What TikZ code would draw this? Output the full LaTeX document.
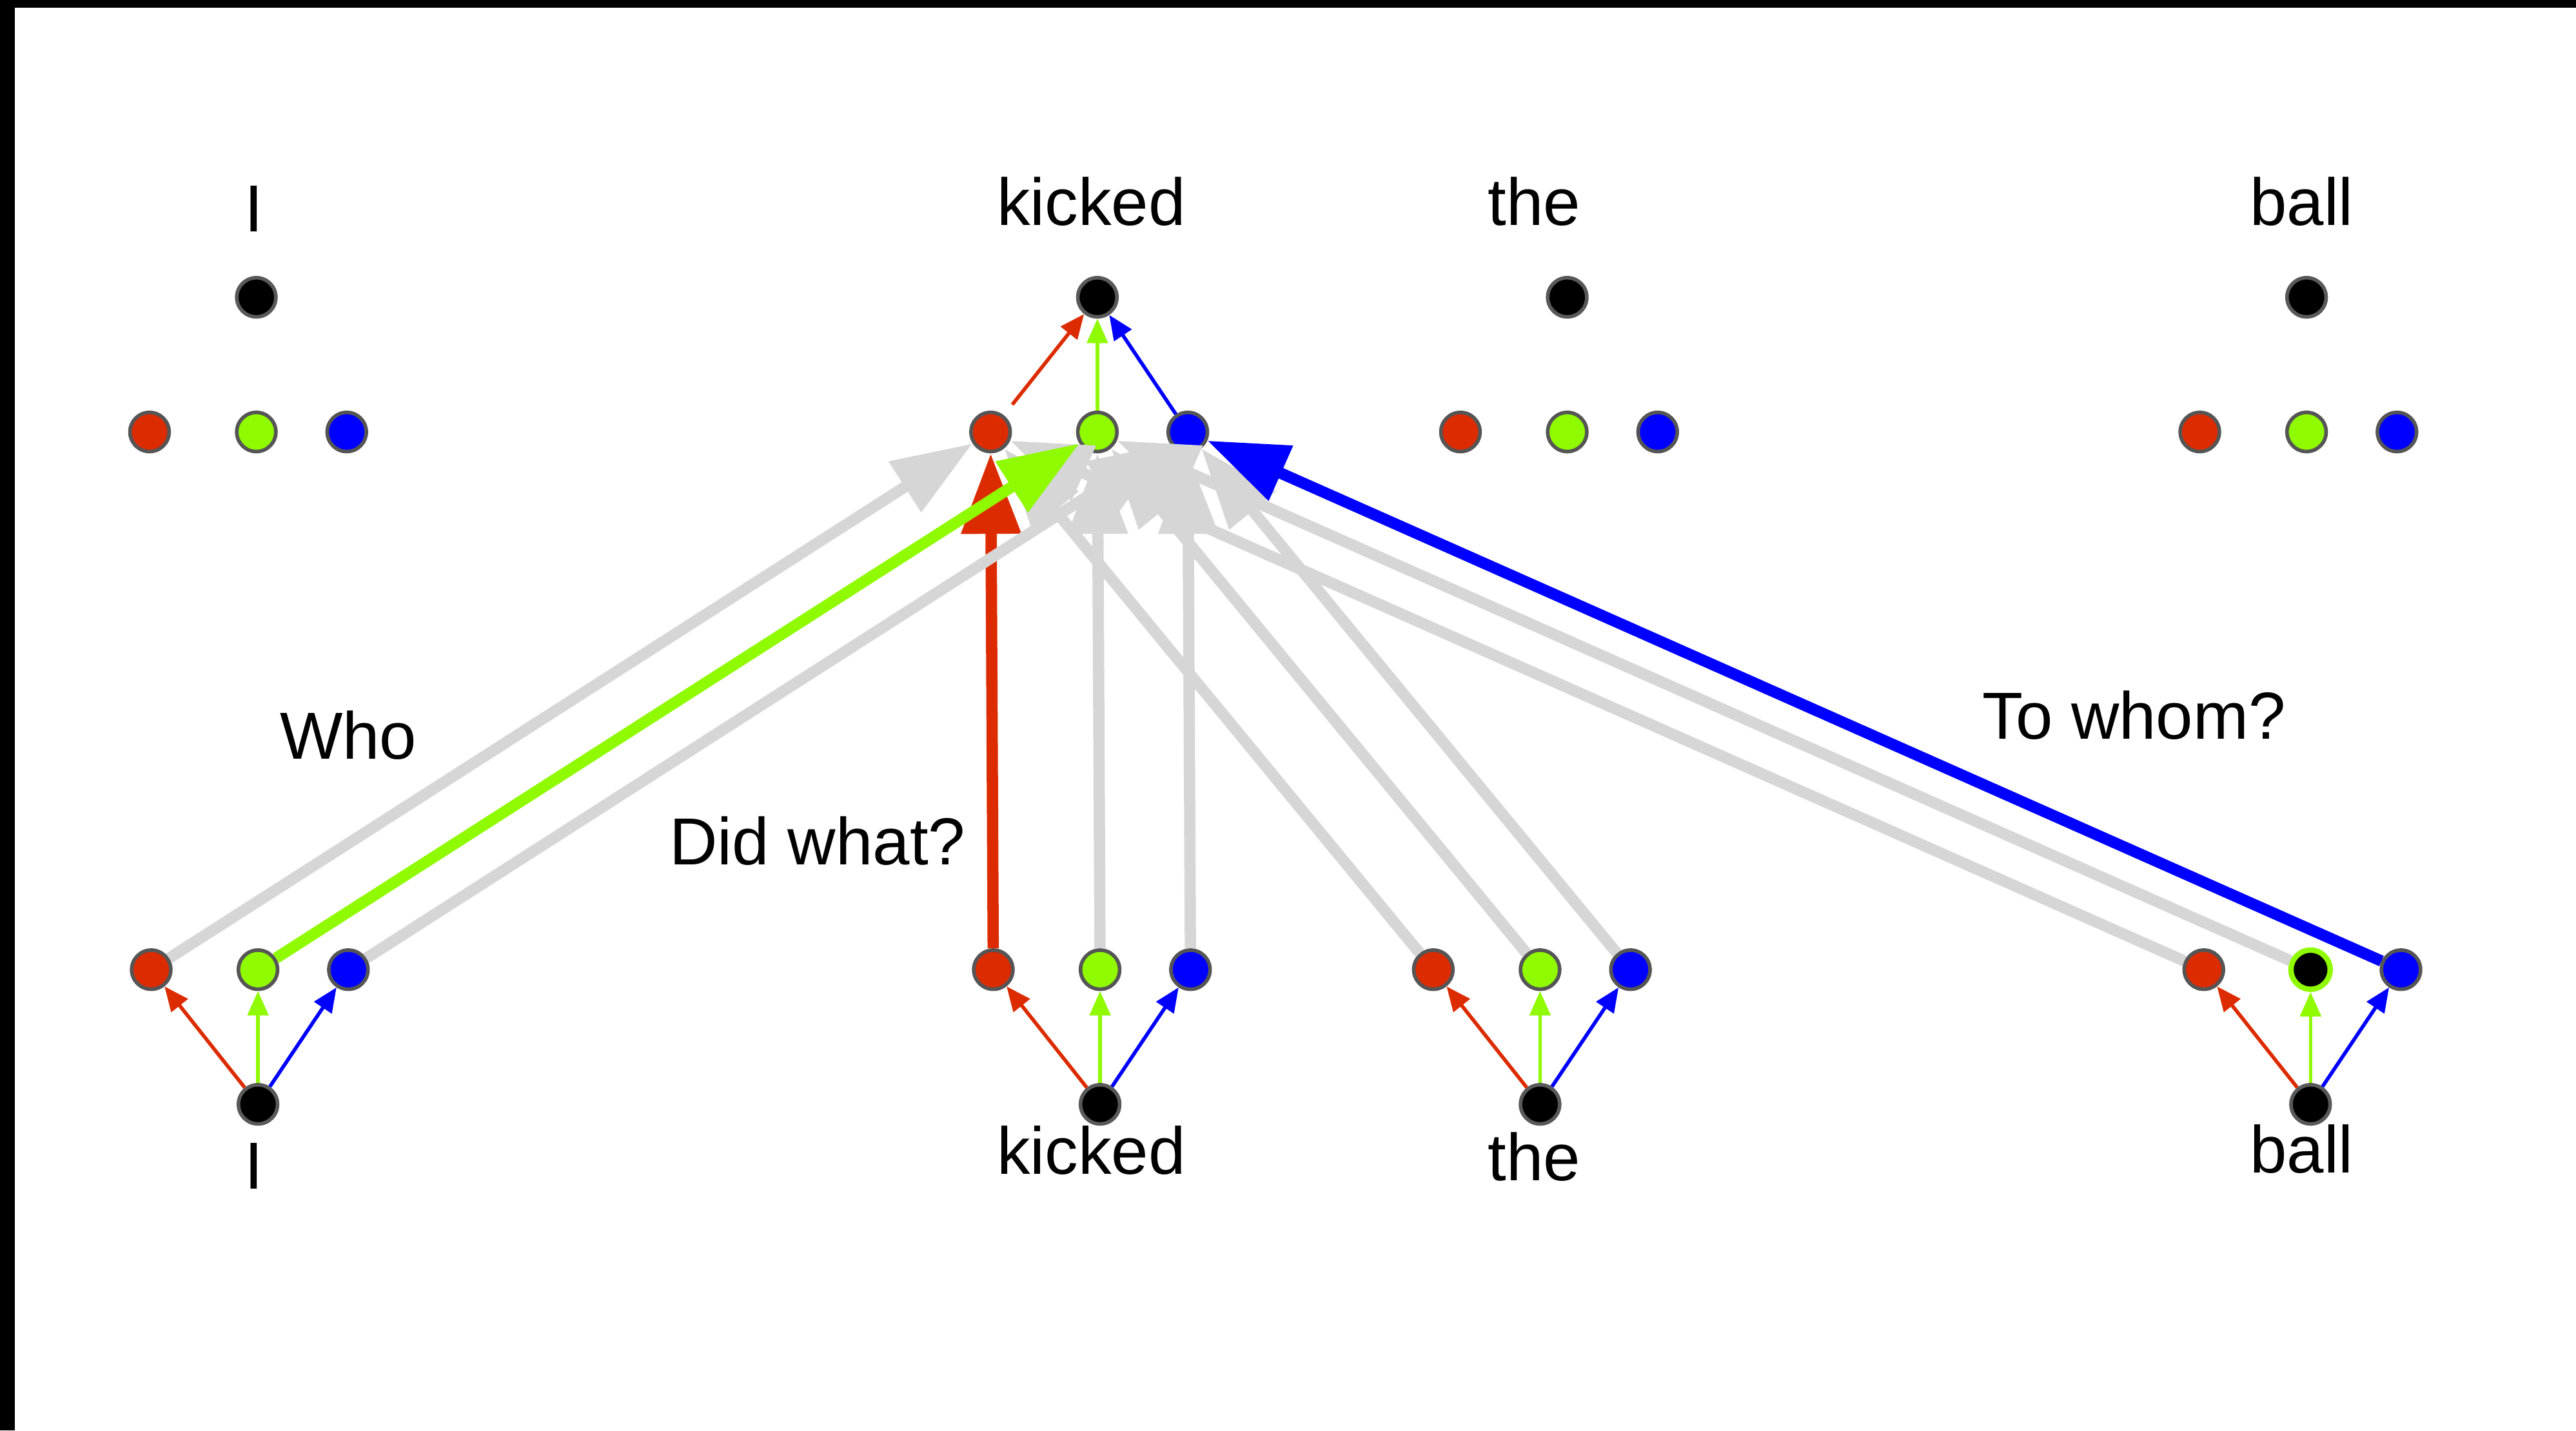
\documentclass[tikz,border=0pt]{standalone}
\usepackage{fontspec}
\setmainfont{Liberation Sans}
\usetikzlibrary{positioning,arrows.meta}

\definecolor{hred}{HTML}{DD2B00}
\definecolor{hgreen}{HTML}{8FFA00}
\definecolor{hblue}{HTML}{0000FF}
\definecolor{hgray}{HTML}{D6D6D6}
\definecolor{rim}{HTML}{555555}

\tikzset{
	dot/.style={circle, draw=rim, line width=0.8pt, minimum size=0.304cm, inner sep=0pt},
	word/.style={dot, fill=black, draw=black!65},
	headr/.style={dot, fill=hred},
	headg/.style={dot, fill=hgreen},
	headb/.style={dot, fill=hblue},
	lbl/.style={font=\fontsize{14.7pt}{17pt}\selectfont, inner sep=0pt, anchor=base},
	proj/.style={line width=0.8pt, -{Triangle[length=0.19cm, width=0.16cm]}},
	attn/.style={line width=2.5pt, -{Triangle[length=0.625cm, width=0.446cm]}},
}

\begin{document}
\begin{tikzpicture}[on grid, node distance=1.046cm]
	
	\useasboundingbox (0,0) rectangle (20,11.11);
	\fill[black] (0,0) rectangle (0.115,11.11);
	\fill[black] (0,11.05) rectangle (20,11.11);
	
	
	\node[word]                         (tI) at (1.990,8.801) {};
	\node[headg, below=of tI]           (tIg) {};
	\node[headr, left=0.829cm of tIg]   (tIr) {};
	\node[headb, right=0.702cm of tIg]  (tIb) {};
	
	\node[word]                            (tkick) at (8.520,8.801) {};
	\node[headg, below=of tkick]           (tkickg) {};
	\node[headr, left=0.829cm of tkickg]   (tkickr) {};
	\node[headb, right=0.702cm of tkickg]  (tkickb) {};
	
	\node[word]                           (tthe) at (12.168,8.801) {};
	\node[headg, below=of tthe]           (ttheg) {};
	\node[headr, left=0.829cm of ttheg]   (tther) {};
	\node[headb, right=0.702cm of ttheg]  (ttheb) {};
	
	\node[word]                            (tball) at (17.908,8.801) {};
	\node[headg, below=of tball]           (tballg) {};
	\node[headr, left=0.829cm of tballg]   (tballr) {};
	\node[headb, right=0.702cm of tballg]  (tballb) {};
	
	
	\node[word]                         (bI) at (2.003,2.533) {};
	\node[headg, above=of bI]           (bIg) {};
	\node[headr, left=0.829cm of bIg]   (bIr) {};
	\node[headb, right=0.702cm of bIg]  (bIb) {};
	
	\node[word]                            (bkick) at (8.541,2.533) {};
	\node[headg, above=of bkick]           (bkickg) {};
	\node[headr, left=0.829cm of bkickg]   (bkickr) {};
	\node[headb, right=0.702cm of bkickg]  (bkickb) {};
	
	\node[word]                           (bthe) at (11.957,2.533) {};
	\node[headg, above=of bthe]           (btheg) {};
	\node[headr, left=0.829cm of btheg]   (bther) {};
	\node[headb, right=0.702cm of btheg]  (btheb) {};
	
	\node[word]                                              (bball) at (17.939,2.533) {};
	\node[word, draw=hgreen, line width=1.2pt, above=of bball] (bballg) {};
	\node[headr, left=0.829cm of bballg]                     (bballr) {};
	\node[headb, right=0.702cm of bballg]                    (bballb) {};
	
	
	\node[lbl] (ltI)    at (1.971,9.311)  {I};
	\node[lbl] (ltkick) at (8.472,9.362)  {kicked};
	\node[lbl] (ltthe)  at (11.913,9.362) {the};
	\node[lbl] (ltball) at (17.870,9.362) {ball};
	
	\node[lbl] (lbI)    at (1.971,1.875)  {I};
	\node[lbl] (lbkick) at (8.472,1.990)  {kicked};
	\node[lbl] (lbthe)  at (11.913,1.939) {the};
	\node[lbl] (lbball) at (17.870,1.999) {ball};
	
	\node[lbl] (who)     at (2.704,5.217)  {Who};
	\node[lbl] (didwhat) at (6.347,4.394)  {Did what?};
	\node[lbl] (towhom)  at (16.569,5.370) {To whom?};
	
	
	\draw[proj, hred, shorten <=3pt] (tkickr) -- (tkick) ; %
	\draw[proj, hgreen] (tkickg) -- (tkick) ; %
	\draw[proj, hblue] (tkickb) -- (tkick) ; %
	
	\draw[proj, hred] (bI) -- (bIr) ; %
	\draw[proj, hgreen] (bI) -- (bIg) ; %
	\draw[proj, hblue] (bI) -- (bIb) ; %
	\draw[proj, hred] (bkick) -- (bkickr) ; %
	\draw[proj, hgreen] (bkick) -- (bkickg) ; %
	\draw[proj, hblue] (bkick) -- (bkickb) ; %
	\draw[proj, hred] (bthe) -- (bther) ; %
	\draw[proj, hgreen] (bthe) -- (btheg) ; %
	\draw[proj, hblue] (bthe) -- (btheb) ; %
	\draw[proj, hred] (bball) -- (bballr) ; %
	\draw[proj, hgreen] (bball) -- (bballg) ; %
	\draw[proj, hblue] (bball) -- (bballb) ; %
	
	
	\draw[attn, hred] (bkickr) -- (tkickr) ; %
	\draw[attn, hgray] (bIr) -- (tkickr) ; %
	\draw[attn, hgray] (bther) -- (tkickr) ; %
	\draw[attn, hgray] (bballr) -- (tkickr) ; %
	\draw[attn, hgray] (bkickg) -- (tkickg) ; %
	\draw[attn, hgray] (btheg) -- (tkickg) ; %
	\draw[attn, hgray] (bballg) -- (tkickg) ; %
	\draw[attn, hgray] (bIb) -- (tkickb) ; %
	\draw[attn, hgray] (bkickb) -- (tkickb) ; %
	\draw[attn, hgray] (btheb) -- (tkickb) ; %
	\draw[attn, hgreen] (bIg) -- (tkickg) ; %
	\draw[attn, hblue] (bballb) -- (tkickb) ; %
	
	
\end{tikzpicture}
\end{document}
